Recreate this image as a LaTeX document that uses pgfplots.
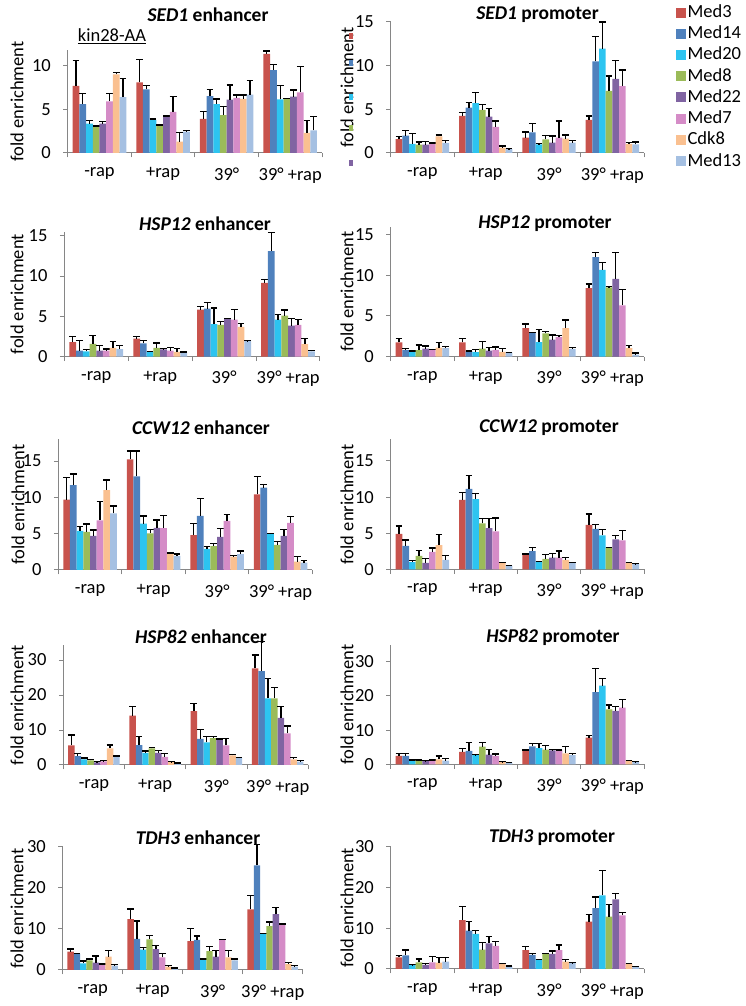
\documentclass[border=0pt]{standalone}
\usepackage{fontspec}
\setmainfont{Carlito}
\usepackage{pgfplots}
\usepackage{pgfplotstable}
\pgfplotsset{compat=1.18}
\definecolor{cA}{RGB}{200,83,77}
\definecolor{cB}{RGB}{79,129,189}
\definecolor{cC}{RGB}{45,196,240}
\definecolor{cD}{RGB}{155,187,89}
\definecolor{cE}{RGB}{128,100,162}
\definecolor{cF}{RGB}{213,140,199}
\definecolor{cG}{RGB}{250,192,144}
\definecolor{cH}{RGB}{165,192,226}
\definecolor{axgray}{RGB}{134,134,134}

% columns: a=Med3 b=Med14 c=Med20 d=Med8 e=Med22 f=Med7 g=Cdk8 h=Med13 ; e* = error
\pgfplotstableread{
x a ea b eb c ec d ed e ee f ef g eg h eh
0 7.7 2.9 5.6 1.25 3.35 0.35 3.0 0.1 3.35 0.25 5.9 0.95 9.0 0.2 6.4 2.1
1 8.1 2.6 7.3 0.4 3.8 0.1 3.15 0.05 4.15 0.1 4.7 1.75 1.3 1.05 2.45 0.1
2 3.9 0.85 6.5 0.8 5.6 0.6 4.35 0.95 6.1 1.7 6.3 0.35 6.2 0.45 6.7 1.6
3 11.35 0.35 9.5 0.6 6.15 1.6 6.2 0.05 6.45 0.75 6.95 2.95 2.3 1.4 2.6 1.6
}\tSedEnh
\pgfplotstableread{
x a ea b eb c ec d ed e ee f ef g eg h eh
0 1.6 0.25 2.0 0.6 1.05 1.2 0.95 0.3 0.95 0.4 1.05 0.1 1.9 0.15 1.15 0.25
1 4.25 0.35 5.2 0.55 5.7 1.25 4.95 0.6 4.15 0.95 3.0 0.65 0.6 0.2 0.45 0.05
2 1.75 0.65 2.35 1.0 1.0 0.05 1.55 0.45 1.2 0.75 1.75 1.9 1.65 0.4 1.2 0.25
3 3.8 0.45 10.5 2.8 11.95 3.05 7.1 1.7 8.5 2.1 7.65 1.85 1.05 0.15 1.0 0.25
}\tSedPro
\pgfplotstableread{
x a ea b eb c ec d ed e ee f ef g eg h eh
0 1.8 0.7 0.75 1.25 0.65 0.2 1.6 1.05 0.75 0.6 0.75 0.2 1.1 0.75 0.95 0.45
1 2.25 0.25 1.65 0.4 0.6 0.05 1.1 0.6 0.9 0.1 0.75 0.4 0.6 0.45 0.55 0.03
2 5.85 0.35 5.95 0.8 4.05 2.0 3.95 0.45 4.7 0.05 4.6 1.25 3.7 0.45 1.95 0.05
3 9.15 0.45 13.1 2.3 4.6 0.6 5.1 0.7 3.85 0.85 3.95 0.65 1.55 0.7 0.65 0.15
}\tHspAEnh
\pgfplotstableread{
x a ea b eb c ec d ed e ee f ef g eg h eh
0 1.75 0.45 0.8 0.2 0.6 0.1 0.8 0.65 1.0 0.3 0.8 0.1 1.1 0.65 1.05 0.2
1 1.75 0.45 0.65 0.03 0.55 0.35 1.0 0.85 0.75 0.35 0.85 0.35 0.6 0.4 0.5 0.03
2 3.5 0.5 2.95 0.05 1.8 1.55 2.85 0.2 2.1 0.55 2.4 0.2 3.5 1.0 0.95 0.2
3 8.4 0.5 12.2 0.6 10.65 0.9 8.5 0.1 9.55 3.2 6.3 1.95 1.05 0.35 0.25 0.2
}\tHspAPro
\pgfplotstableread{
x a ea b eb c ec d ed e ee f ef g eg h eh
0 9.7 3.05 11.7 1.5 5.4 0.55 5.25 1.1 4.7 0.8 6.85 2.55 11.0 1.4 7.8 1.0
1 15.25 1.15 12.9 3.5 6.4 1.05 5.05 0.55 5.8 1.1 5.75 1.8 2.3 0.05 1.95 0.25
2 4.8 1.6 7.45 2.35 2.9 0.3 3.3 0.35 4.55 1.2 6.75 0.9 1.85 0.15 2.2 0.4
3 10.4 2.45 11.35 0.45 4.95 0.1 3.45 0.45 4.7 0.9 6.5 0.85 1.15 0.7 1.0 0.3
}\tCcwEnh
\pgfplotstableread{
x a ea b eb c ec d ed e ee f ef g eg h eh
0 4.9 1.1 3.25 0.8 1.0 0.2 1.85 0.75 0.9 0.55 2.4 0.55 3.35 1.5 1.3 0.6
1 9.6 1.0 11.15 1.8 9.7 0.75 6.35 0.65 5.7 1.3 5.25 1.85 0.9 0.05 0.5 0.03
2 2.05 0.05 2.5 0.5 1.05 0.05 1.45 0.6 1.6 0.6 1.6 0.95 1.3 0.3 0.9 0.05
3 6.15 1.5 5.6 0.6 4.7 0.85 3.0 0.05 4.15 0.5 4.0 1.4 0.9 0.05 0.7 0.1
}\tCcwPro
\pgfplotstableread{
x a ea b eb c ec d ed e ee f ef g eg h eh
0 5.6 2.95 2.55 0.75 1.6 0.4 1.35 0.25 0.75 0.2 1.05 0.2 4.75 0.95 2.4 0.15
1 14.1 2.55 5.7 2.4 3.5 0.5 4.75 0.3 3.5 0.6 2.3 0.95 0.85 0.05 0.55 0.05
2 15.4 2.2 7.5 2.7 6.5 1.6 7.7 0.4 7.15 0.3 5.6 2.0 2.75 0.3 2.0 0.2
3 27.6 3.8 26.85 8.5 19.05 5.7 19.05 3.05 13.5 3.15 9.05 2.1 1.6 0.5 0.95 0.3
}\tHspBEnh
\pgfplotstableread{
x a ea b eb c ec d ed e ee f ef g eg h eh
0 2.45 0.75 2.45 0.75 1.25 0.05 1.25 0.05 1.0 0.05 1.05 0.2 1.45 1.0 1.05 0.6
1 3.6 1.0 3.9 2.45 2.8 0.05 5.15 1.25 2.8 1.5 2.45 0.55 0.7 0.05 0.5 0.05
2 4.1 0.05 5.25 0.9 4.75 1.3 4.3 1.15 4.1 0.2 4.1 0.05 3.2 1.95 2.65 0.55
3 7.8 0.55 21.1 6.95 23.05 1.95 16.05 1.3 15.6 1.25 16.55 2.45 1.15 0.05 0.7 0.05
}\tHspBPro
\pgfplotstableread{
x a ea b eb c ec d ed e ee f ef g eg h eh
0 4.45 0.65 3.9 0.15 1.6 0.6 2.35 0.3 1.8 1.6 1.2 0.25 3.25 1.45 1.05 0.35
1 12.35 2.5 7.55 4.35 4.95 0.5 7.45 0.9 5.05 0.85 3.1 0.9 0.8 0.25 0.4 0.1
2 7.05 3.0 7.3 0.95 2.6 0.05 4.6 1.05 3.25 1.45 7.3 0.15 3.1 1.6 2.35 0.3
3 14.75 3.35 25.45 5.0 8.75 0.15 10.7 1.0 13.6 1.55 10.95 0.25 1.45 0.35 0.8 0.25
}\tTdhEnh
\pgfplotstableread{
x a ea b eb c ec d ed e ee f ef g eg h eh
0 2.85 0.4 3.35 1.3 1.0 0.05 1.65 0.8 1.0 0.4 1.65 1.35 1.55 1.3 1.8 1.05
1 12.0 3.3 9.4 2.2 8.6 0.8 4.75 1.8 6.3 1.7 5.65 1.05 1.25 0.15 0.65 0.05
2 4.65 0.85 3.45 0.4 2.35 0.05 3.7 0.15 3.7 0.7 4.6 1.3 1.8 0.55 1.45 0.1
3 11.6 1.8 14.95 2.7 18.05 6.05 12.85 2.95 17.1 1.45 13.15 0.65 1.25 0.15 0.6 0.05
}\tTdhPro

\pgfplotsset{
  medpanel/.style={
    scale only axis, anchor=south west,
    xmin=-0.5, xmax=3.5, ymin=0,
    xtick={-0.5,0.5,1.5,2.5,3.5}, xticklabels={,,,,},
    extra x ticks={0,1,2,3},
    extra x tick labels={-rap,+rap,39°,39° +rap},
    extra x tick style={major tick length=0pt, xticklabel style={yshift=-8pt}},
    major tick length=4.5pt,
    tick align=outside,
    axis x line*=bottom, axis y line*=left,
    axis line style={draw=axgray, line width=1pt, -},
    tick style={draw=axgray, line width=1pt},
    ybar=0pt,
    clip=false,
    /pgf/number format/assume math mode=true,
    yticklabel style={xshift=-6pt},
    every axis plot/.append style={draw=none,
      error bars/y dir=plus, error bars/y explicit,
      error bars/error bar style={draw=black, line width=1.3pt},
      error bars/error mark options={draw=black, line width=1.3pt, mark size=3.4pt, rotate=90}},
  },
  medlegend/.style={
    legend entries={Med3,Med14,Med20,Med8,Med22,Med7,Cdk8,Med13},
    legend style={at={(1.126,1.145)}, anchor=north west, draw=none, fill=none,
      inner sep=0pt, row sep=2.6pt, nodes={inner sep=1.5pt, anchor=west}},
    legend cell align=left,
    legend image code/.code={\fill[##1] (0pt,-5pt) rectangle (10pt,5pt);},
  }
}

\newcommand{\panel}[9]{%
\pgfmathsetmacro\bw{#4/38}%
\begin{axis}[medpanel, at={(#2pt,#3pt)}, width=#4pt, height=#5pt,
  ymax=#6, ytick={#7}, bar width=\bw pt, #9]
 \addplot[fill=cA] table[x=x,y=a,y error=ea]{#1};
 \addplot[fill=cB] table[x=x,y=b,y error=eb]{#1};
 \addplot[fill=cC] table[x=x,y=c,y error=ec]{#1};
 \addplot[fill=cD] table[x=x,y=d,y error=ed]{#1};
 \addplot[fill=cE] table[x=x,y=e,y error=ee]{#1};
 \addplot[fill=cF] table[x=x,y=f,y error=ef]{#1};
 \addplot[fill=cG] table[x=x,y=g,y error=eg]{#1};
 \addplot[fill=cH] table[x=x,y=h,y error=eh]{#1};
\end{axis}
\pgfmathsetmacro\yc{#3+#5/2}%
\node[rotate=90] at (#8pt,\yc pt) {fold enrichment};
}

\begin{document}
\fontsize{18.5}{22}\selectfont
\begin{tikzpicture}
\useasboundingbox (0,0) rectangle (745pt,1006pt);
% row 1
\panel{\tSedEnh}{67.7}{853}{254.3}{103}{11.8}{0,5,10}{17}{}
\panel{\tSedPro}{390.7}{853}{253.3}{131}{15}{0,5,10,15}{347}{medlegend}
% row 2
\panel{\tHspAEnh}{64.3}{649.3}{255.7}{125}{15.5}{0,5,10,15}{17}{}
\panel{\tHspAPro}{390.7}{649.3}{253.3}{130}{15.93}{0,5,10,15}{347}{}
% row 3
\panel{\tCcwEnh}{58.3}{436}{254}{130.7}{18}{0,5,10,15}{18}{}
\panel{\tCcwPro}{390.7}{436.7}{253.3}{130}{18}{0,5,10,15}{347}{}
% row 4
\panel{\tHspBEnh}{63.3}{241}{245}{120}{34.3}{0,10,20,30}{17}{}
\panel{\tHspBPro}{390.7}{241.7}{253.3}{119.3}{34.9}{0,10,20,30}{347}{}
% row 5
\panel{\tTdhEnh}{62.7}{36}{240}{123.3}{30}{0,10,20,30}{17}{}
\panel{\tTdhPro}{390.7}{37}{253.3}{122.3}{30}{0,10,20,30}{347}{}
% titles
\begin{scope}[every node/.style={font=\fontsize{19.5}{23}\selectfont\bfseries}]
\node at (208pt,991pt) {\textit{SED1} enhancer};
\node at (537.5pt,991pt) {\textit{SED1} promoter};
\node at (205pt,782.7pt) {\textit{HSP12} enhancer};
\node at (545pt,782.7pt) {\textit{HSP12} promoter};
\node at (201pt,578pt) {\textit{CCW12} enhancer};
\node at (549pt,578pt) {\textit{CCW12} promoter};
\node at (201pt,369pt) {\textit{HSP82} enhancer};
\node at (553pt,369pt) {\textit{HSP82} promoter};
\node at (198pt,168pt) {\textit{TDH3} enhancer};
\node at (552pt,168pt) {\textit{TDH3} promoter};
\end{scope}
\node at (112pt,970pt) {\underline{kin28-AA}};
% clipped legend remnants
\fill[cA] (349pt,967pt) rectangle (353pt,973pt);
\fill[cB] (349pt,940pt) rectangle (353pt,946pt);
\fill[cC] (349pt,906pt) rectangle (353pt,912pt);
\fill[cD] (349pt,875pt) rectangle (353pt,881pt);
\fill[cE] (349pt,840pt) rectangle (353pt,846pt);
\end{tikzpicture}
\end{document}
